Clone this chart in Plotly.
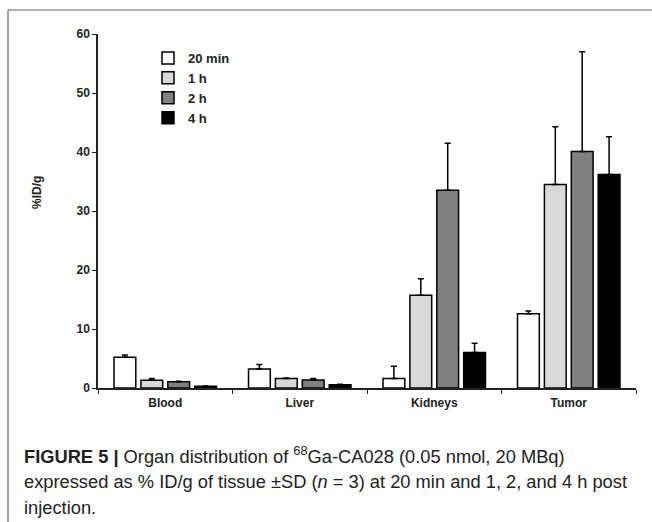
import plotly.graph_objects as go

organs = ["Blood", "Liver", "Kidneys", "Tumor"]
series_names = ["20 min", "1 h", "2 h", "4 h"]
v_20min = [5.2, 3.2, 1.6, 12.6]
v_1h = [1.3, 1.6, 15.7, 34.5]
v_2h = [1.05, 1.35, 33.5, 40.1]
v_4h = [0.3, 0.55, 6.0, 36.2]
sd_20min = [0.4, 0.8, 2.1, 0.45]
sd_1h = [0.3, 0.1, 2.8, 9.8]
sd_2h = [0.1, 0.25, 8.0, 16.9]
sd_4h = [0.05, 0.1, 1.6, 6.4]
y_ticks = [0, 10, 20, 30, 40, 50, 60]

values = [v_20min, v_1h, v_2h, v_4h]
sds = [sd_20min, sd_1h, sd_2h, sd_4h]
colors = ["#ffffff", "#d9d9d9", "#808080", "#000000"]

fig = go.Figure()
for name, v, sd, c in zip(series_names, values, sds, colors):
    fig.add_trace(go.Bar(
        x=organs, y=v, name=name,
        marker=dict(color=c, line=dict(color="black", width=1.5)),
        error_y=dict(type="data", symmetric=False, array=sd,
                     arrayminus=[0] * len(sd), color="black",
                     thickness=1.5, width=3),
    ))

bold = dict(family="Liberation Sans, Arial, sans-serif", size=12,
            color="#222222", weight="bold")

L, R, T, B = 98, 16, 34, 134
W, H = 652, 522
pw, ph = W - L - R, H - T - B

def px(x):
    return (x - L) / pw

def py(y):
    return (H - B - y) / ph

fig.update_layout(
    width=W, height=H,
    margin=dict(l=L, r=R, t=T, b=B),
    paper_bgcolor="white", plot_bgcolor="white",
    barmode="group", bargap=0.2, bargroupgap=0.19,
    showlegend=True,
    legend=dict(x=px(148), y=py(43), xanchor="left", yanchor="top",
                font=dict(bold, size=13), bgcolor="rgba(0,0,0,0)",
                itemwidth=30, tracegroupgap=0),
    xaxis=dict(showline=True, linecolor="#222222", linewidth=1.5,
               ticks="outside", ticklen=4, tickcolor="#222222",
               tickson="boundaries", tickfont=bold, ticklabelstandoff=3,
               showgrid=False),
    yaxis=dict(range=[0, 60], tickvals=y_ticks, showline=True,
               linecolor="#222222", linewidth=1.5, ticks="outside",
               ticklen=4, tickcolor="#222222", tickfont=bold,
               showgrid=False, zeroline=False),
    font=dict(family="Liberation Sans, Arial, sans-serif"),
)

# y-axis title
fig.add_annotation(text="%ID/g", xref="paper", yref="paper",
                   x=px(37), y=py(193), textangle=-90, showarrow=False,
                   xanchor="center", yanchor="middle", font=bold)

# figure panel frame (top and left edges)
fig.add_shape(type="line", xref="paper", yref="paper",
              x0=px(8), x1=px(652), y0=py(10), y1=py(10),
              line=dict(color="#666666", width=1.2))
fig.add_shape(type="line", xref="paper", yref="paper",
              x0=px(8), x1=px(8), y0=py(10), y1=py(522),
              line=dict(color="#666666", width=1.2))

cap_font = dict(family="Liberation Sans, Arial, sans-serif",
                size=18.3, color="#222222")
captions = [
    "<b>FIGURE 5 |</b> Organ distribution of <sup>68</sup>Ga-CA028 (0.05 nmol, 20 MBq)",
    "expressed as % ID/g of tissue ±SD (<i>n</i> = 3) at 20 min and 1, 2, and 4 h post",
    "injection.",
]
for i, txt in enumerate(captions):
    fig.add_annotation(text=txt, xref="paper", yref="paper",
                       x=px(22), y=py(455 + 26 * i), xanchor="left",
                       yanchor="middle", showarrow=False, font=cap_font)

fig.write_html("out.html", config={"displayModeBar": False},
               post_script="document.body.style.margin='0';")
